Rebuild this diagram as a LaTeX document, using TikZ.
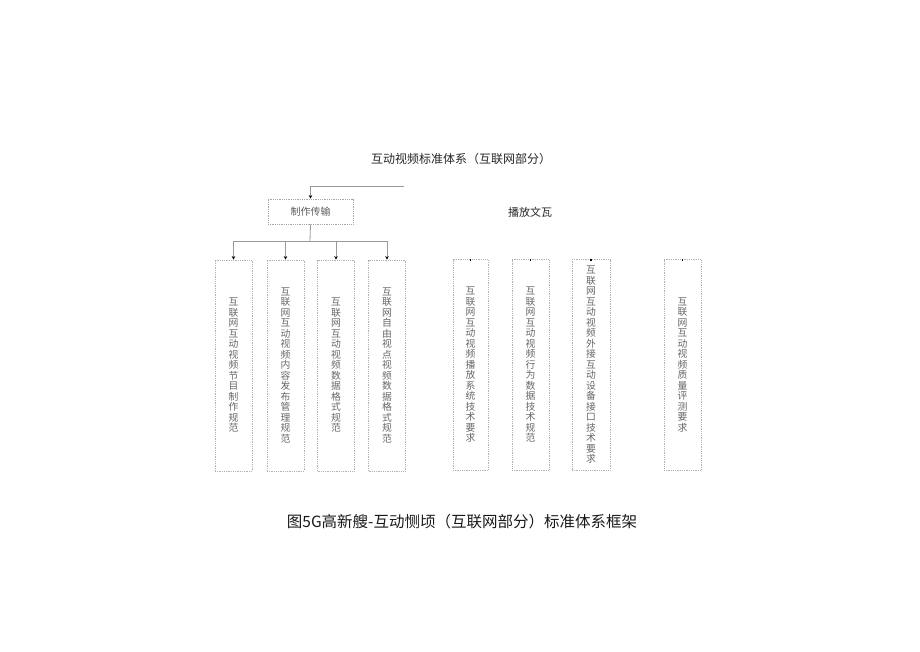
\documentclass[tikz,border=0pt]{standalone}
\usepackage{fontspec}
\newfontfamily\cjk{Noto Sans CJK SC}
\usetikzlibrary{arrows.meta}
\XeTeXlinebreaklocale "zh"
\XeTeXlinebreakskip=0pt plus 1pt
\setlength\parindent{0pt}
\tikzset{
  link/.style={draw=black!40, line width=0.8pt},
  headbox/.style={draw=black!35, densely dotted, line width=0.8pt, minimum width=85pt, minimum height=25pt,
    inner sep=0pt, font=\cjk\fontsize{10}{12}\selectfont, text=black!65},
  stdbox/.style={draw=black!30, densely dotted, line width=0.8pt, minimum width=37pt, minimum height=211pt,
    inner sep=0pt, text width=11pt, align=center, font=\cjk\fontsize{9.8}{10.5}\selectfont, text=black!60},
}
\begin{document}
\begin{tikzpicture}[x=1pt,y=-1pt,>={Stealth[length=3.5pt,width=3.5pt,color=black]}]
  \useasboundingbox (0,0) rectangle (920,651);
  % titles
  \node[font=\cjk\fontsize{12}{14}\selectfont, text=black!85] (title) at (461,159) {互动视频标准体系（互联网部分）};
  \node[font=\cjk\fontsize{11}{13}\selectfont, text=black!85] (play) at (530,212) {播放文瓦};
  \node[font=\cjk\fontsize{15.5}{18}\selectfont, text=black!90] (caption) at (462,522) {图5G高新艘-互动恻顷（互联网部分）标准体系框架};
  % production branch
  \node[headbox] (make) at (310.5,211.5) {制作传输};
  \node[stdbox] (s1) at (233.5,365.5) {互联网互动视频节目制作规范};
  \node[stdbox] (s2) at (285.5,365.5) {互联网互动视频内容发布管理规范};
  \node[stdbox] (s3) at (336,365.5) {互联网互动视频数据格式规范};
  \node[stdbox] (s4) at (387,365.5) {互联网自由视点视频数据格式规范};
  % playback branch
  \node[stdbox, minimum width=35pt] (s5) at (470.5,365) {互联网互动视频播放系统技术要求};
  \node[stdbox] (s6) at (530.5,365) {互联网互动视频行为数据技术规范};
  \node[stdbox, minimum width=38pt] (s7) at (591,365) {互联网互动视频外接互动设备接口技术要求};
  \node[stdbox] (s8) at (682.5,365) {互联网互动视频质量评测要求};
  % connectors
  \coordinate (top) at (404,186);
  \coordinate (bus) at (310,241);
  \draw[link,->] (top) -| (make.north);
  \draw[link] (make.south) -- (bus);
  \foreach \s in {s1,s2,s3,s4}
    \draw[link,->] (bus) -| (\s.north);
  \foreach \s in {s5,s6,s7,s8}
    \draw[line width=1.2pt] (\s.north) -- ++(0,1.5);
\end{tikzpicture}
\end{document}
